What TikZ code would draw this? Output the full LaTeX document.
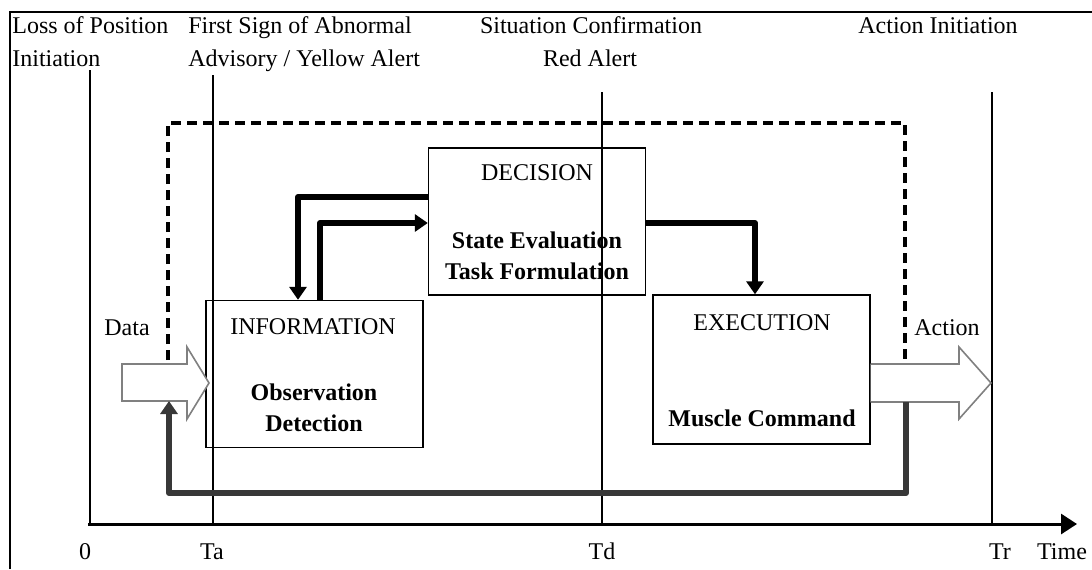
\documentclass[tikz,border=0pt]{standalone}
\usepackage{fontspec}
\setmainfont{Liberation Serif}
\usetikzlibrary{arrows.meta}
\begin{document}
\begin{tikzpicture}[x=0.5pt,y=-0.5pt,
  every node/.style={font=\fontsize{12}{14}\selectfont, inner sep=0pt},
  box/.style={draw, line width=0.7pt, minimum width=108.5pt, minimum height=73.5pt},
  bold/.style={font=\fontsize{12}{14}\selectfont\bfseries},
  tline/.style={line width=0.65pt},
  flow/.style={line width=3pt, line join=round, -{Triangle[width=8.5pt,length=6.5pt]}},
  loopflow/.style={line width=3pt, line join=round, draw=black!78, -{Triangle[width=8.5pt,length=6.5pt]}},
  hollow/.style={draw=black!50, line width=0.8pt, fill=white, line join=miter},
  dashframe/.style={line width=2pt, dash pattern=on 5pt off 3pt},
  frame/.style={line width=1pt},
  hdr/.style={anchor=base west},
  hdrc/.style={anchor=base},
  tick/.style={anchor=base}]
\useasboundingbox (0,0) rectangle (1092,569);

% frame
\draw[frame] (10,569) -- (10,12) -- (1092,12);

% header texts
\node[hdr] (h1a) at (12,33) {Loss of Position};
\node[hdr] (h1b) at (12,66) {Initiation};
\node[hdr] (h2a) at (188,33) {First Sign of Abnormal};
\node[hdr] (h2b) at (188,66) {Advisory / Yellow Alert};
\node[hdrc] (h3a) at (591,33) {Situation Confirmation};
\node[hdrc] (h3b) at (590,66) {Red Alert};
\node[hdrc] (h4a) at (938,33) {Action Initiation};

% time axis
\coordinate (ax0) at (88,524);
\coordinate (axE) at (1077,524);
\draw[line width=1.5pt, -{Triangle[width=10pt,length=8pt]}] (ax0) -- (axE);

% vertical time lines
\coordinate (t0) at (90,70);
\coordinate (ta) at (213,75);
\coordinate (td) at (602,92);
\coordinate (tr) at (992,92);
\draw[tline] (t0) -- (t0 |- ax0);
\draw[tline] (ta) -- (ta |- ax0);
\draw[tline] (td) -- (td |- ax0);
\draw[tline] (tr) -- (tr |- ax0);

% axis labels
\node[tick] (l0) at (85,559) {0};
\node[tick] (la) at (212,559) {Ta};
\node[tick] (ld) at (602,559) {Td};
\node[tick] (lr) at (1000,559) {Tr};
\node[tick] (lt) at (1062,559) {Time};

% boxes
\node[box] (info) at (314.5,374) {};
\node[box] (dec) at (537,221.5) {};
\node[box, minimum height=74.5pt] (exec) at (761.5,369.5) {};

\node (infoT) at (313,327) {INFORMATION};
\node[bold] (infoA) at (314,392) {Observation};
\node[bold] (infoB) at (314,423) {Detection};

\node (decT) at (537,173) {DECISION};
\node[bold] (decA) at (537,240) {State Evaluation};
\node[bold] (decB) at (537,271) {Task Formulation};

\node (execT) at (762,323) {EXECUTION};
\node[bold] (execA) at (762,418) {Muscle Command};

% hollow data / action arrows
\draw[hollow] (122,364) -- (187,364) -- (187,347) -- (209,383) -- (187,419) -- (187,401) -- (122,401) -- cycle;
\draw[hollow] (exec.east |- 0,364) -- (959,364) -- (959,347) -- (991,383) -- (959,419) -- (959,402) -- (exec.east |- 0,402);
\coordinate (dataB) at (169,401);
\coordinate (actB) at (906,402);
\coordinate (dashL) at (168,360);
\coordinate (dashR) at (905,363);

\node (dataL) at (127,328) {Data};
\node (actL) at (947,328) {Action};

% dashed feedback frame
\draw[dashframe] (dashL) |- (905,123) -- (dashR);

% flows
\draw[flow] (dec.west |- 0,197) -| (info.north -| 298,0);
\draw[flow] (info.north -| 320,0) |- (dec.west |- 0,223);
\draw[flow] (dec.east |- 0,223) -| (exec.north -| 755,0);

% bottom feedback loop
\draw[loopflow] (actB) -- (906,493) -| (dataB);
\end{tikzpicture}
\end{document}
